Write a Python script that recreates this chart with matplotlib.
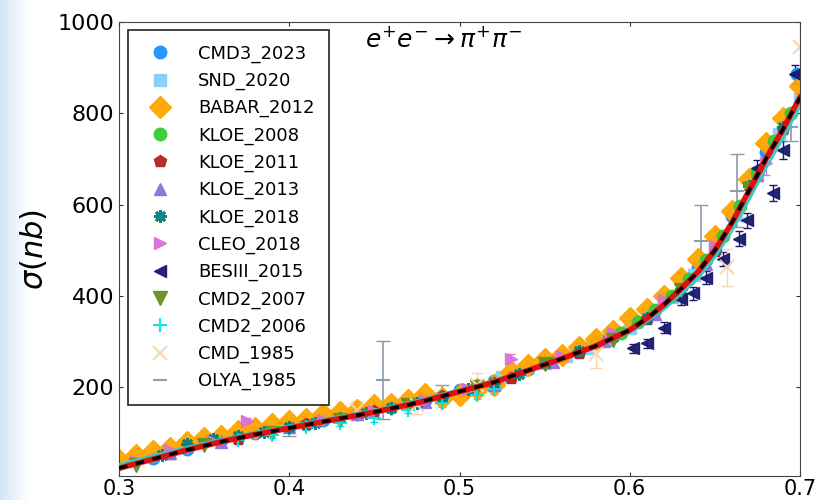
import numpy as np
import matplotlib
matplotlib.use('Agg')
import matplotlib.pyplot as plt
from matplotlib.colors import LinearSegmentedColormap

# fit curve
fit_x = [0.30, 0.31, 0.32, 0.33, 0.34, 0.35, 0.36, 0.37, 0.38, 0.39, 0.40, 0.41, 0.42, 0.43, 0.44,
         0.45, 0.46, 0.47, 0.48, 0.49, 0.50, 0.51, 0.52, 0.53, 0.54, 0.55, 0.56, 0.57, 0.58, 0.59,
         0.60, 0.61, 0.62, 0.63, 0.64, 0.65, 0.66, 0.67, 0.68, 0.69, 0.70]
fit_y = [22, 32, 42, 52, 62, 71, 80, 88, 96, 103, 110, 117, 124, 131, 138,
         145, 153, 161, 170, 180, 190, 200, 210, 223, 236, 249, 262, 276, 290, 307,
         325, 350, 380, 415, 452, 500, 560, 630, 700, 765, 835]
fit2_y = [30, 40, 50, 59, 68, 77, 85, 93, 101, 108, 115, 122, 129, 136, 143,
          150, 158, 166, 175, 185, 194, 204, 214, 226, 238, 250, 262, 275, 288, 304,
          320, 343, 370, 403, 438, 484, 542, 610, 680, 745, 815]

cmd3_x = [0.32, 0.34, 0.36, 0.38, 0.40, 0.42, 0.44, 0.46, 0.48, 0.50, 0.52, 0.54, 0.56, 0.58, 0.60,
          0.62, 0.64, 0.66, 0.68, 0.698]
cmd3_y = [44, 65, 83, 99, 113, 127, 142, 157, 172, 193, 214, 240, 268, 298, 333, 392, 462, 575, 715, 885]

snd_x = [0.525, 0.5375, 0.55, 0.5625, 0.575, 0.5875, 0.60, 0.6125, 0.625, 0.6375, 0.65, 0.6625,
         0.675, 0.6875, 0.70]
snd_y = [222, 238, 252, 268, 285, 304, 330, 360, 398, 445, 505, 578, 665, 755, 832]

babar_x = [0.30, 0.31, 0.32, 0.33, 0.34, 0.35, 0.36, 0.37, 0.38, 0.39, 0.40, 0.41, 0.42, 0.43, 0.44,
           0.45, 0.46, 0.47, 0.48, 0.49, 0.50, 0.51, 0.52, 0.53, 0.54, 0.55, 0.56, 0.57, 0.58, 0.59,
           0.60, 0.61, 0.62, 0.63, 0.64, 0.65, 0.66, 0.67, 0.68, 0.69, 0.70]
babar_y = [40, 50, 60, 66, 80, 88, 92, 104, 110, 120, 126, 130, 140, 146, 150,
           160, 162, 172, 185, 176, 182, 196, 205, 232, 248, 262, 270, 288, 305, 322,
           352, 372, 400, 440, 480, 530, 585, 655, 735, 790, 860]

kloe08_x = [0.595, 0.605, 0.615, 0.625, 0.635, 0.645, 0.655, 0.665, 0.675, 0.685, 0.695]
kloe08_y = [318, 342, 368, 400, 436, 478, 532, 596, 668, 740, 800]

kloe11_x = [0.33, 0.37, 0.41, 0.45, 0.49, 0.53, 0.57, 0.61, 0.65, 0.69]
kloe11_y = [53, 87, 118, 147, 180, 220, 275, 350, 498, 765]

kloe13_x = [0.33, 0.36, 0.40, 0.44, 0.48, 0.52, 0.555, 0.585, 0.615, 0.645, 0.675]
kloe13_y = [55, 80, 112, 140, 168, 205, 255, 300, 360, 470, 665]

kloe18_x = [0.325, 0.34, 0.355, 0.37, 0.385, 0.40, 0.415, 0.43, 0.445, 0.46, 0.475, 0.49, 0.505,
            0.52, 0.535, 0.55, 0.57, 0.59, 0.61, 0.63, 0.65, 0.67, 0.69]
kloe18_y = [50, 76, 85, 92, 102, 112, 121, 132, 144, 154, 166, 178, 195,
            208, 228, 252, 280, 310, 352, 415, 500, 640, 770]

cleo_x = [0.31, 0.33, 0.355, 0.375, 0.42, 0.45, 0.48, 0.505, 0.53, 0.56, 0.59, 0.62, 0.65, 0.68]
cleo_y = [38, 62, 82, 125, 128, 148, 172, 196, 262, 268, 318, 390, 510, 690]
cleo_e = [5, 5, 5, 8, 6, 6, 7, 8, 10, 10, 12, 15, 20, 25]

bes_x = [0.602, 0.61, 0.62, 0.63, 0.637, 0.645, 0.655, 0.664, 0.669, 0.675, 0.684, 0.69, 0.697]
bes_y = [285, 296, 330, 392, 405, 440, 480, 525, 565, 680, 625, 720, 885]
bes_e = [10, 10, 12, 12, 14, 14, 15, 16, 16, 18, 18, 20, 20]

cmd207_x = [0.31, 0.35, 0.39, 0.43, 0.47, 0.51, 0.55, 0.59, 0.63, 0.67]
cmd207_y = [30, 72, 100, 128, 160, 200, 250, 302, 412, 635]

cmd206_x = [0.37, 0.39, 0.41, 0.43, 0.45, 0.47, 0.49, 0.51, 0.52]
cmd206_y = [84, 95, 112, 122, 132, 150, 165, 183, 195]
cmd206_e = [6, 6, 7, 7, 8, 8, 9, 10, 10]

cmd85_x = [0.44, 0.475, 0.51, 0.58, 0.657, 0.70]
cmd85_y = [150, 160, 205, 272, 462, 945]
cmd85_e = [20, 20, 25, 30, 40, 60]

olya_x = [0.40, 0.455, 0.49, 0.642, 0.663, 0.695]
olya_y = [108, 215, 185, 520, 630, 770]
olya_e = [15, 85, 20, 80, 80, 30]

fig = plt.figure(figsize=(8.17, 5.0), dpi=100)

# light blue strip of the slide on the left
bg = fig.add_axes([0, 0, 0.035, 1], zorder=-5)
cm = LinearSegmentedColormap.from_list('bg', ['#d3e4f5', '#ffffff'])
bg.imshow(np.linspace(0, 1, 50)[None, :], aspect='auto', cmap=cm, extent=[0, 1, 0, 1])
bg.axis('off')

ax = fig.add_axes([119 / 817, 24 / 500, 681 / 817, 454 / 500])

ax.errorbar(cleo_x, cleo_y, yerr=cleo_e, fmt='none', ecolor='#da70d6', capsize=3, lw=1)
ax.errorbar(bes_x, bes_y, yerr=bes_e, fmt='none', ecolor='#191970', capsize=3, lw=1)
ax.errorbar(cmd206_x, cmd206_y, yerr=cmd206_e, fmt='none', ecolor='#00e5e5', capsize=3, lw=1)
ax.errorbar(cmd85_x, cmd85_y, yerr=cmd85_e, fmt='none', ecolor='#f5d6b5', capsize=4, lw=1)
ax.errorbar(olya_x, olya_y, yerr=olya_e, fmt='none', ecolor='#8a9aab', capsize=5, lw=1.2)

kw = dict(ls='none', alpha=0.95)
ax.plot(cmd3_x, cmd3_y, marker='o', ms=9, color='#1e90ff', label='CMD3_2023', **kw)
ax.plot(snd_x, snd_y, marker='s', ms=9, color='#87cefa', label='SND_2020', **kw)
ax.plot(babar_x, babar_y, marker='D', ms=11, color='#ffa500', label='BABAR_2012', **kw)
ax.plot(kloe08_x, kloe08_y, marker='o', ms=9, color='#32cd32', label='KLOE_2008', **kw)
ax.plot(kloe11_x, kloe11_y, marker='p', ms=9, color='#b22222', label='KLOE_2011', **kw)
ax.plot(kloe13_x, kloe13_y, marker='^', ms=9, color='#9370db', label='KLOE_2013', **kw)
ax.plot(kloe18_x, kloe18_y, marker=(8, 2, 0), ms=9, mew=2, color='#008080', label='KLOE_2018', **kw)
ax.plot(cleo_x, cleo_y, marker='>', ms=9, color='#da70d6', label='CLEO_2018', **kw)
ax.plot(bes_x, bes_y, marker='<', ms=9, color='#191970', label='BESIII_2015', **kw)
ax.plot(cmd207_x, cmd207_y, marker='v', ms=10, color='#6b8e23', label='CMD2_2007', **kw)
ax.plot(cmd206_x, cmd206_y, marker='+', ms=10, mew=1.5, color='#00e5e5', label='CMD2_2006', **kw)
ax.plot(cmd85_x, cmd85_y, marker='x', ms=10, mew=1.5, color='#f5d6b5', label='CMD_1985', **kw)
ax.plot(olya_x, olya_y, marker='_', ms=10, mew=1.5, color='#8a9aab', label='OLYA_1985', **kw)

ax.plot(fit_x, fit2_y, color='#3cc8c8', lw=2, zorder=5)
ax.plot(fit_x, fit_y, color='#e01010', lw=4, zorder=6)
ax.plot(fit_x, fit_y, color='black', lw=2.5, ls=(0, (2.5, 2.5)), zorder=7)

ax.set_xlim(0.3, 0.7)
ax.set_ylim(5, 1000)
ax.set_xticks([0.3, 0.4, 0.5, 0.6, 0.7])
ax.set_xticklabels(['0.3', '0.4', '0.5', '0.6', '0.7'])
ax.set_yticks([200, 400, 600, 800, 1000])
ax.tick_params(labelsize=16, direction='in', length=3, top=True, right=True, colors='#333333',
               labelcolor='black')
ax.tick_params(axis='x', pad=2, labelsize=15)
for s in ax.spines.values():
    s.set_color('#444444')
ax.set_ylabel(r'$\sigma(nb)$', fontsize=22, labelpad=6)
ax.text(0.361, 0.99, r'$e^{+}e^{-}\rightarrow\pi^{+}\pi^{-}$', transform=ax.transAxes,
        fontsize=18, va='top', ha='left')

leg = ax.legend(loc='upper left', bbox_to_anchor=(0.013, 0.982), fontsize=13, frameon=True,
                fancybox=False, edgecolor='#222222', framealpha=1, labelspacing=0.5,
                handletextpad=1.1, borderpad=0.8, handlelength=2.0, borderaxespad=0)
leg.get_frame().set_linewidth(1.2)

plt.savefig('out.png', dpi=100)
print('Done')
